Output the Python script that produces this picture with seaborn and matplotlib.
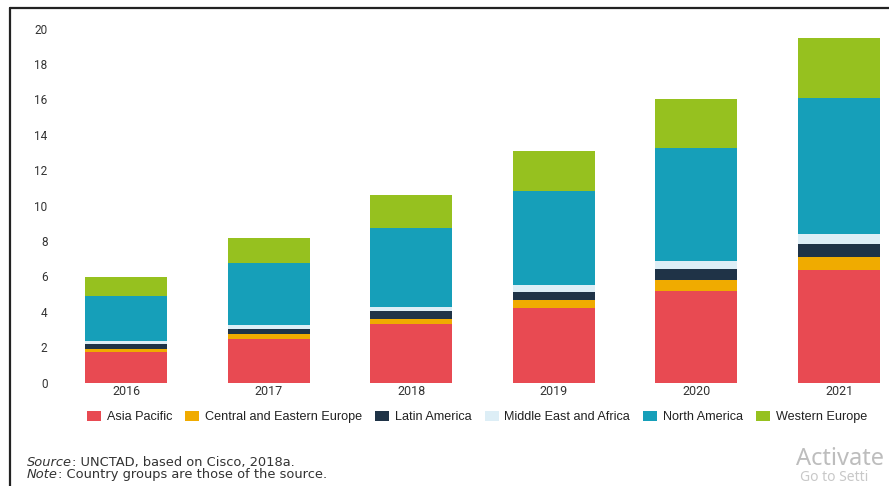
import matplotlib
matplotlib.use("Agg")
import matplotlib.pyplot as plt
from matplotlib.patches import Patch
from matplotlib.lines import Line2D
from matplotlib import font_manager
import seaborn as sns
import pandas as pd
import numpy as np

# ---------------- data ----------------
years = ["2016", "2017", "2018", "2019", "2020", "2021"]
series_names = ["Asia Pacific", "Central and Eastern Europe", "Latin America",
                "Middle East and Africa", "North America", "Western Europe"]
asia_pacific = [1.70, 2.44, 3.32, 4.23, 5.19, 6.36]
central_eastern_europe = [0.22, 0.30, 0.28, 0.43, 0.60, 0.73]
latin_america = [0.26, 0.28, 0.42, 0.45, 0.61, 0.72]
middle_east_africa = [0.14, 0.21, 0.23, 0.38, 0.46, 0.60]
north_america = [2.54, 3.50, 4.50, 5.33, 6.39, 7.66]
western_europe = [1.10, 1.42, 1.84, 2.26, 2.77, 3.38]
colors = ["#E84A52", "#F0AB00", "#1F3347", "#DDEEF6", "#169FB9", "#96C11F"]
yticks = [0, 2, 4, 6, 8, 10, 12, 14, 16, 18, 20]
source_label = "Source"
source_text = ": UNCTAD, based on Cisco, 2018a."
note_label = "Note"
note_text = ": Country groups are those of the source."

values = [asia_pacific, central_eastern_europe, latin_america,
          middle_east_africa, north_america, western_europe]

rows = []
for name, vals in zip(series_names, values):
    for y, v in zip(years, vals):
        rows.append({"year": y, "region": name, "value": v})
df = pd.DataFrame(rows)
wide = df.pivot(index="year", columns="region", values="value")[series_names]
cum = wide.cumsum(axis=1)

# ---------------- fonts ----------------
available = {f.name for f in font_manager.fontManager.ttflist}
legend_font = "Liberation Sans Narrow" if "Liberation Sans Narrow" in available else "Liberation Sans"
legend_size = 11 if legend_font == "Liberation Sans Narrow" else 9.1

sns.set_style("white")
plt.rcParams["font.family"] = ["Roboto", "DejaVu Sans"]

W, H = 889, 486
fig = plt.figure(figsize=(W / 100, H / 100), dpi=100)

def fx(px):
    return px / W

def fy(py):
    return 1 - py / H

ax_left, ax_right = 60, 889
ax_top, ax_bottom = 28.5, 382.5
ax = fig.add_axes([fx(ax_left), fy(ax_bottom), fx(ax_right - ax_left),
                   (ax_bottom - ax_top) / H])

# stacked bars: draw cumulative totals from top layer down
for i in range(len(series_names) - 1, -1, -1):
    d = pd.DataFrame({"year": years, "total": cum.iloc[:, i].values})
    sns.barplot(data=d, x="year", y="total", order=years, color=colors[i],
                saturation=1, width=0.575, ax=ax, linewidth=0, errorbar=None)

centre0, step = 126, 142.6
ax.set_xlim((ax_left - centre0) / step, (ax_right - centre0) / step)
ax.set_ylim(0, 20)
ax.set_yticks(yticks)
ax.set_yticklabels([str(t) for t in yticks])
ax.set_xlabel("")
ax.set_ylabel("")
for s in ax.spines.values():
    s.set_visible(False)
ax.tick_params(axis="y", length=0, pad=9, labelsize=8.5, labelcolor="#333333")
ax.tick_params(axis="x", length=0, pad=2, labelsize=9, labelcolor="#333333")
ax.grid(False)

# legend
handles = [Patch(facecolor=c, edgecolor="none", label=n) for c, n in zip(colors, series_names)]
fig.legend(handles=handles, loc="center", bbox_to_anchor=(fx(477), fy(417)),
           ncol=6, frameon=False, prop={"family": legend_font, "size": legend_size},
           handlelength=1.1, handleheight=0.9, handletextpad=0.45,
           columnspacing=1.05, labelcolor="#222222")

# source / note
renderer = fig.canvas.get_renderer()
def mixed(x, y, italic_part, rest):
    t1 = fig.text(fx(x), fy(y), italic_part, fontsize=9.4, style="italic",
                  family="DejaVu Sans", color="#333333", va="center", ha="left")
    bb = t1.get_window_extent(renderer=renderer)
    fig.text(bb.x1 / W, fy(y), rest, fontsize=9.4, family="DejaVu Sans",
             color="#333333", va="center", ha="left")

mixed(27, 462, source_label, source_text)
mixed(27, 474, note_label, note_text)

# screenshot watermark (as visible in the reference screenshot)
fig.text(fx(796), fy(459), "Activate", fontsize=17, family="Noto Sans",
         color="#BDBDBD", va="center", ha="left")
fig.text(fx(800), fy(477), "Go to Setti", fontsize=10,
         family="Noto Sans", color="#C8C8C8", va="center", ha="left")

# frame of the screenshot
fig.add_artist(Line2D([fx(10), fx(10)], [fy(8), fy(486)], color="#222222",
                      linewidth=1.6, transform=fig.transFigure))
fig.add_artist(Line2D([fx(10), fx(889)], [fy(8), fy(8)], color="#222222",
                      linewidth=1.6, transform=fig.transFigure))

fig.savefig("out.png", dpi=100)
